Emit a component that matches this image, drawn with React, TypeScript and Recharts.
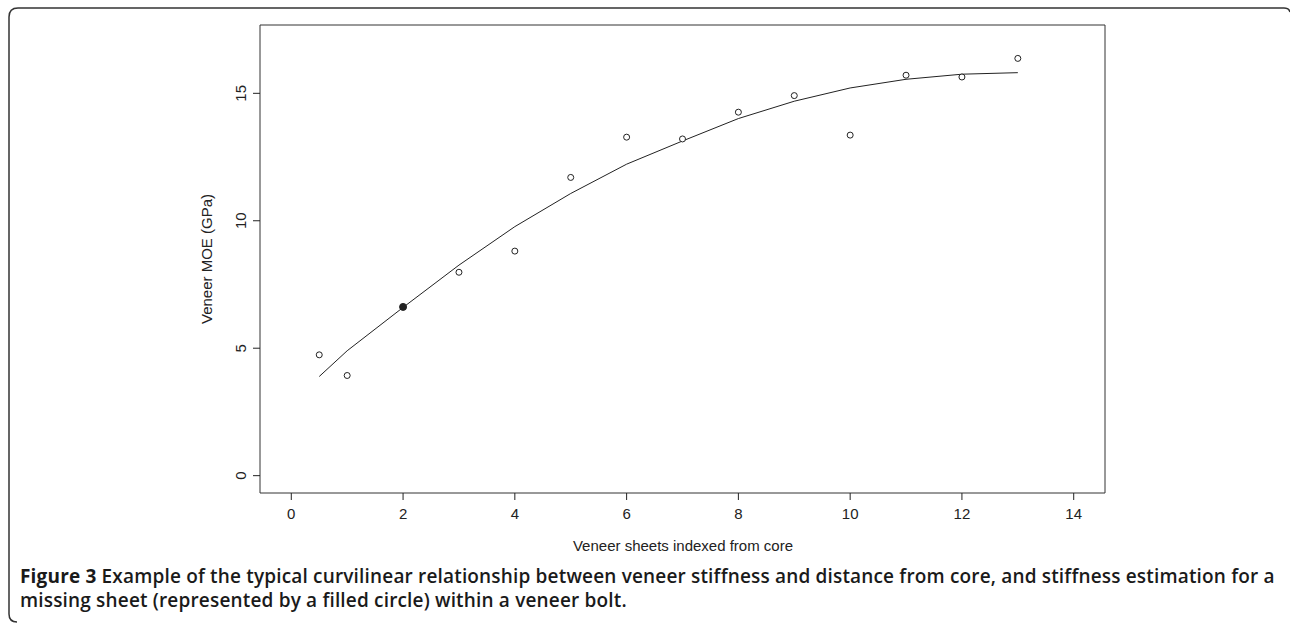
import React from 'react';
import { ComposedChart, XAxis, YAxis, Scatter, Line, ReferenceArea } from 'recharts';

// sheet index from core
const sheetIndex = [0.5, 1, 3, 4, 5, 6, 7, 8, 9, 10, 11, 12, 13];
// measured veneer MOE (GPa)
const measuredMoe = [4.74, 3.93, 7.98, 8.81, 11.7, 13.28, 13.21, 14.26, 14.91, 13.36, 15.71, 15.64, 16.37];

// missing sheet, estimated
const missingIndex = [2];
const missingMoe = [6.62];

// fitted curve
const fitIndex = [0.5, 1, 2, 3, 4, 5, 6, 7, 8, 9, 10, 11, 12, 13];
const fitMoe = [3.89, 4.9, 6.6, 8.26, 9.77, 11.07, 12.22, 13.13, 14.01, 14.69, 15.21, 15.55, 15.75, 15.81];

const xTicks = [0, 2, 4, 6, 8, 10, 12, 14];
const yTicks = [0, 5, 10, 15];

const xDomain: [number, number] = [-0.56, 14.56];
const yDomain: [number, number] = [-0.68, 17.68];

const measured = sheetIndex.map((x, i) => ({ x, y: measuredMoe[i] }));
const missing = missingIndex.map((x, i) => ({ x, y: missingMoe[i] }));
const fit = fitIndex.map((x, i) => ({ x, y: fitMoe[i] }));

const INK = '#222';
const AXIS_FONT = '"Liberation Sans", Arial, sans-serif';

const OpenDot = (p: any) => <circle cx={p.cx} cy={p.cy} r={3} fill="#fff" stroke={INK} strokeWidth={1} />;
const FilledDot = (p: any) => <circle cx={p.cx} cy={p.cy} r={3.5} fill={INK} stroke={INK} strokeWidth={1} />;

const RotatedTick = ({ x, y, payload }: any) => (
  <text x={x} y={y} transform={`rotate(-90 ${x} ${y})`} textAnchor="middle" fontSize={15} fill={INK} fontFamily={AXIS_FONT}>
    {payload.value}
  </text>
);

export default function App() {
  return (
    <div style={{ position: 'absolute', left: 0, top: 0, width: 1290, height: 625, background: '#fff' }}>
      <svg width={1290} height={625} style={{ position: 'absolute', left: 0, top: 0 }}>
        <path d="M 17 622 Q 9 622 9 614 L 9 17 Q 9 8 18 8 L 1284 8 Q 1289 8 1290 12" fill="none" stroke="#333" strokeWidth={1.5} />
        <text x={683} y={551} textAnchor="middle" fontSize={15} fill={INK} fontFamily={AXIS_FONT}>
          Veneer sheets indexed from core
        </text>
        <text x={212} y={259} transform="rotate(-90 212 259)" textAnchor="middle" fontSize={15} fill={INK} fontFamily={AXIS_FONT}>
          Veneer MOE (GPa)
        </text>
      </svg>
      <div style={{ position: 'absolute', left: 0, top: 0 }}>
        <ComposedChart width={1290} height={560} margin={{ top: 25, right: 185, bottom: 37, left: 200 }}>
          <XAxis
            type="number"
            dataKey="x"
            domain={xDomain}
            ticks={xTicks}
            allowDataOverflow
            height={30}
            axisLine={false}
            tickSize={7}
            tickMargin={8}
            tickLine={{ stroke: INK }}
            tick={{ fontSize: 15, fill: INK, fontFamily: AXIS_FONT }}
          />
          <YAxis
            type="number"
            dataKey="y"
            domain={yDomain}
            ticks={yTicks}
            allowDataOverflow
            width={60}
            axisLine={false}
            tickSize={7}
            tickMargin={7}
            tickLine={{ stroke: INK }}
            tick={<RotatedTick />}
          />
          <ReferenceArea x1={xDomain[0]} x2={xDomain[1]} y1={yDomain[0]} y2={yDomain[1]} fill="none" stroke="#333" strokeWidth={1} ifOverflow="visible" />
          <Line data={fit} dataKey="y" type="linear" stroke={INK} strokeWidth={1} dot={false} isAnimationActive={false} />
          <Scatter data={measured} dataKey="y" shape={OpenDot} isAnimationActive={false} />
          <Scatter data={missing} dataKey="y" shape={FilledDot} isAnimationActive={false} />
        </ComposedChart>
      </div>
      <div
        style={{
          position: 'absolute',
          left: 20,
          top: 564,
          fontFamily: '"Open Sans", sans-serif',
          fontSize: 19,
          letterSpacing: 0.17,
          lineHeight: '24px',
          color: '#1a1a1a',
          fontWeight: 600,
          whiteSpace: 'nowrap',
        }}
      >
        <div>
          <span style={{ fontWeight: 700 }}>Figure 3</span> Example of the typical curvilinear relationship between veneer stiffness and distance from core, and stiffness estimation for a
        </div>
        <div>missing sheet (represented by a filled circle) within a veneer bolt.</div>
      </div>
    </div>
  );
}
